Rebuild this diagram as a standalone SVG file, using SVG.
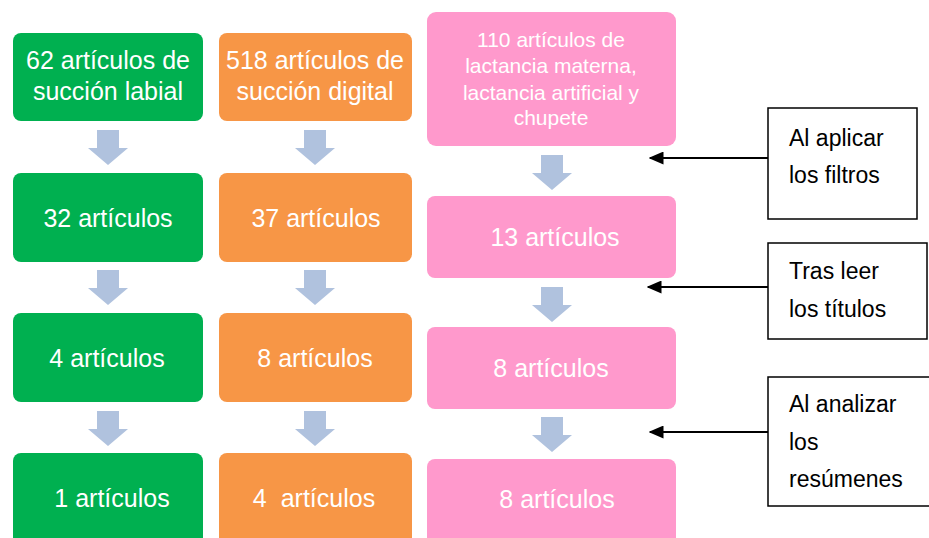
<svg xmlns="http://www.w3.org/2000/svg" width="929" height="538" viewBox="0 0 929 538">
<defs>
<style>
.g{fill:#00B050}
.o{fill:#F79646}
.p{fill:#FF99CC}
.t{font-family:"Liberation Sans",Arial,sans-serif;fill:#fff;font-size:25px;text-anchor:middle}
.ts{font-size:21px}
.lb{font-family:"Liberation Sans",Arial,sans-serif;fill:#000;font-size:23px}
.bx{fill:#fff;stroke:#000;stroke-width:1.5}
.ba{fill:#B0C2DE}
.ln{stroke:#000;stroke-width:2;fill:none;marker-end:url(#ah)}
</style>
<marker id="ah" viewBox="0 0 10 10" refX="9" refY="5" markerWidth="15" markerHeight="13" markerUnits="userSpaceOnUse" orient="auto" preserveAspectRatio="none">
<path d="M0,0 L10,5 L0,10 z" fill="#000"/>
</marker>
<path id="barr" d="M-11,0 H11 V18 H20 L0,35 L-20,18 H-11 Z"/>
</defs>

<g id="connectors">
<use href="#barr" class="ba" x="108" y="130"/>
<use href="#barr" class="ba" x="108" y="270"/>
<use href="#barr" class="ba" x="108" y="411"/>
<use href="#barr" class="ba" x="315" y="130"/>
<use href="#barr" class="ba" x="315" y="270"/>
<use href="#barr" class="ba" x="315" y="411"/>
<use href="#barr" class="ba" x="552" y="155"/>
<use href="#barr" class="ba" x="552" y="287"/>
<use href="#barr" class="ba" x="552" y="417"/>
<line class="ln" x1="768" y1="158" x2="650" y2="158"/>
<line class="ln" x1="768" y1="287" x2="648" y2="287"/>
<line class="ln" x1="768" y1="432" x2="650" y2="432"/>
</g>

<g id="g1"><rect class="g" x="13" y="33" width="190" height="88" rx="8"/>
<text class="t" x="108" y="69">62 artículos de</text><text class="t" x="108" y="100">succión labial</text></g>
<g id="g2"><rect class="g" x="13" y="173" width="190" height="89" rx="8"/>
<text class="t" x="108" y="227">32 artículos</text></g>
<g id="g3"><rect class="g" x="13" y="313" width="190" height="89" rx="8"/>
<text class="t" x="107" y="367">4 artículos</text></g>
<g id="g4"><rect class="g" x="13" y="453" width="190" height="95" rx="8"/>
<text class="t" x="112" y="507">1 artículos</text></g>

<g id="o1"><rect class="o" x="219" y="33" width="193" height="88" rx="8"/>
<text class="t" x="315" y="69">518 artículos de</text><text class="t" x="315" y="100">succión digital</text></g>
<g id="o2"><rect class="o" x="219" y="173" width="193" height="89" rx="8"/>
<text class="t" x="316" y="227">37 artículos</text></g>
<g id="o3"><rect class="o" x="219" y="313" width="193" height="89" rx="8"/>
<text class="t" x="315" y="367">8 artículos</text></g>
<g id="o4"><rect class="o" x="219" y="453" width="193" height="95" rx="8"/>
<text class="t" x="314" y="507" xml:space="preserve">4  artículos</text></g>

<g id="p1"><rect class="p" x="427" y="12" width="249" height="134" rx="9"/>
<text class="t ts" x="551" y="47">110 artículos de</text>
<text class="t ts" x="551" y="73">lactancia materna,</text>
<text class="t ts" x="551" y="100">lactancia artificial y</text>
<text class="t ts" x="551" y="125">chupete</text></g>
<g id="p2"><rect class="p" x="427" y="196" width="249" height="82" rx="8"/>
<text class="t" x="555" y="246">13 artículos</text></g>
<g id="p3"><rect class="p" x="427" y="327" width="249" height="82" rx="8"/>
<text class="t" x="551" y="377">8 artículos</text></g>
<g id="p4"><rect class="p" x="427" y="459" width="249" height="90" rx="8"/>
<text class="t" x="557" y="508">8 artículos</text></g>

<g id="n1"><rect class="bx" x="768" y="108" width="149" height="111"/>
<text class="lb" x="789" y="146">Al aplicar</text><text class="lb" x="789" y="183">los filtros</text></g>
<g id="n2"><rect class="bx" x="768" y="243" width="159" height="96"/>
<text class="lb" x="789" y="279">Tras leer</text><text class="lb" x="789" y="317">los títulos</text></g>
<g id="n3"><rect class="bx" x="768" y="377" width="170" height="129"/>
<text class="lb" x="789" y="412">Al analizar</text><text class="lb" x="789" y="450">los</text><text class="lb" x="789" y="487">resúmenes</text></g>
</svg>
